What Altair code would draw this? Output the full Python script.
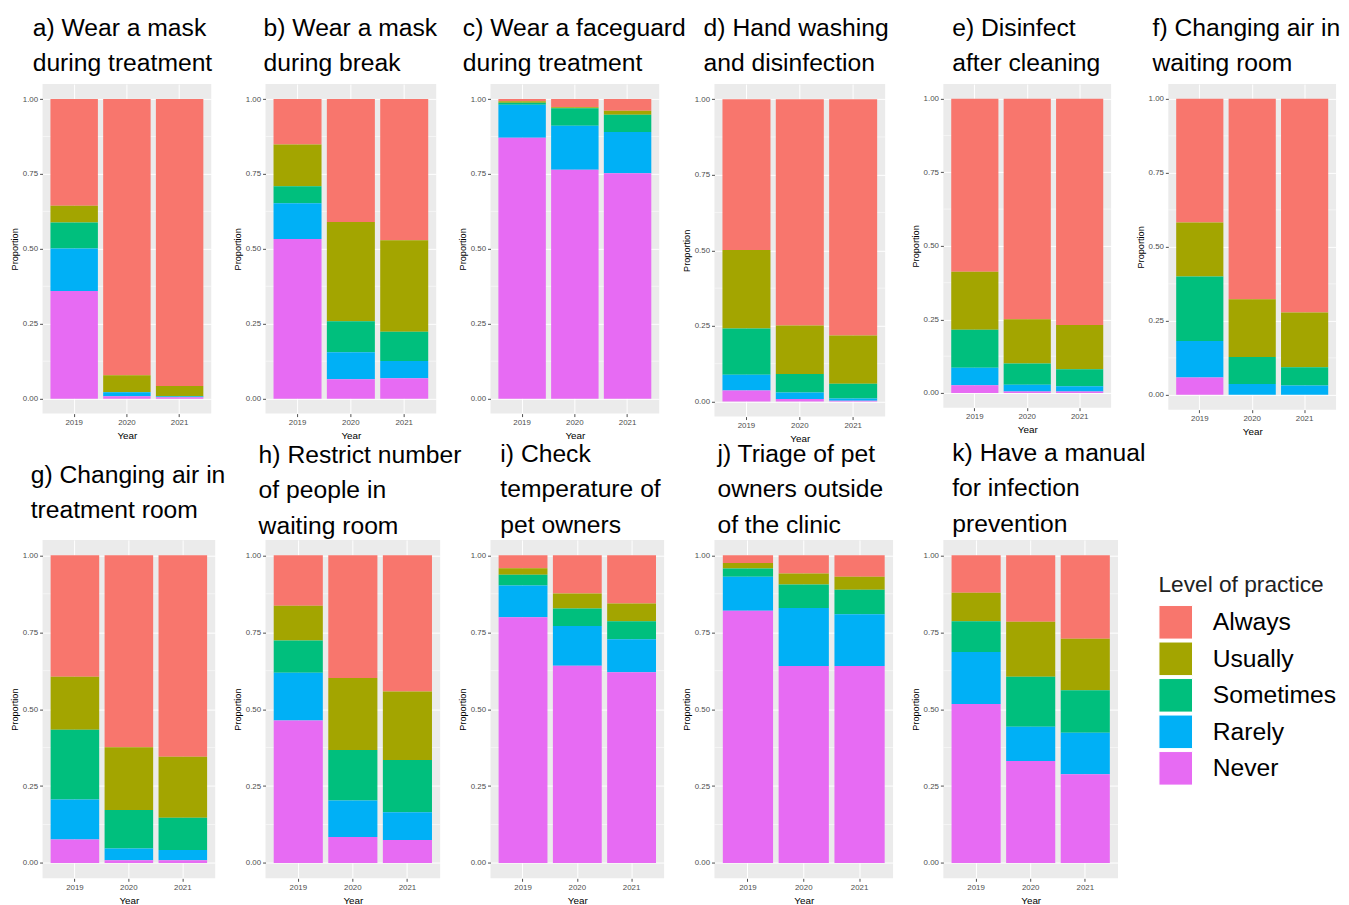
import altair as alt
import pandas as pd

# ---------------- data ----------------
panel_ids = list("abcdefghijk")
titles = [
    ["a) Wear a mask", "during treatment"],
    ["b) Wear a mask", "during break"],
    ["c) Wear a faceguard", "during treatment"],
    ["d) Hand washing", "and disinfection"],
    ["e) Disinfect", "after cleaning"],
    ["f) Changing air in", "waiting room"],
    ["g) Changing air in", "treatment room"],
    ["h) Restrict number", "of people in", "waiting room"],
    ["i) Check", "temperature of", "pet owners"],
    ["j) Triage of pet", "owners outside", "of the clinic"],
    ["k) Have a manual", "for infection", "prevention"],
]
years = ["2019", "2020", "2021"]
levels = ["Always", "Usually", "Sometimes", "Rarely", "Never"]
colors = ["#F8766D", "#A3A500", "#00BF7D", "#00B0F6", "#E76BF3"]

# proportion of each level, per panel (a..k), per year (2019, 2020, 2021)
never = [
    [0.359, 0.008, 0.005], [0.533, 0.065, 0.068], [0.871, 0.764, 0.752],
    [0.036, 0.008, 0.002], [0.026, 0.005, 0.005], [0.059, 0.000, 0.000],
    [0.076, 0.009, 0.009], [0.463, 0.084, 0.075], [0.799, 0.641, 0.620],
    [0.820, 0.640, 0.640], [0.517, 0.331, 0.288],
]
rarely = [
    [0.142, 0.013, 0.002], [0.119, 0.090, 0.058], [0.110, 0.147, 0.138],
    [0.052, 0.022, 0.008], [0.060, 0.023, 0.018], [0.123, 0.037, 0.032],
    [0.130, 0.038, 0.033], [0.155, 0.119, 0.090], [0.103, 0.129, 0.107],
    [0.110, 0.189, 0.168], [0.169, 0.112, 0.135],
]
sometimes = [
    [0.087, 0.001, 0.002], [0.057, 0.103, 0.097], [0.007, 0.058, 0.058],
    [0.153, 0.061, 0.049], [0.129, 0.072, 0.058], [0.218, 0.091, 0.061],
    [0.227, 0.125, 0.105], [0.105, 0.164, 0.170], [0.035, 0.057, 0.059],
    [0.027, 0.076, 0.080], [0.100, 0.162, 0.138],
]
usually = [
    [0.056, 0.056, 0.033], [0.139, 0.332, 0.306], [0.005, 0.004, 0.013],
    [0.260, 0.160, 0.159], [0.197, 0.151, 0.150], [0.182, 0.195, 0.185],
    [0.172, 0.204, 0.198], [0.113, 0.234, 0.222], [0.021, 0.049, 0.057],
    [0.018, 0.036, 0.042], [0.092, 0.179, 0.168],
]
always = [
    [0.356, 0.922, 0.958], [0.152, 0.410, 0.471], [0.007, 0.027, 0.039],
    [0.499, 0.749, 0.782], [0.588, 0.749, 0.769], [0.418, 0.677, 0.722],
    [0.395, 0.624, 0.655], [0.164, 0.399, 0.443], [0.042, 0.124, 0.157],
    [0.025, 0.059, 0.070], [0.122, 0.216, 0.271],
]
y_breaks = [0, 0.25, 0.5, 0.75, 1]
y_minor = [0.125, 0.375, 0.625, 0.875]

level_values = {"Always": always, "Usually": usually, "Sometimes": sometimes,
                "Rarely": rarely, "Never": never}
rows = []
for i, pid in enumerate(panel_ids):
    for j, yr in enumerate(years):
        for lv in levels:
            rows.append({"panel": pid, "Year": yr, "Level": lv,
                         "Proportion": level_values[lv][i][j],
                         "rank": 4 - levels.index(lv)})
df = pd.DataFrame(rows)
minor_df = pd.DataFrame({"v": y_minor})

# ---------------- layout (sizes / title placement) ----------------
# width, height, title dx, title offset
layout = [
    (171, 334, -10, 8), (173, 334, -2, 8), (171, 334, -28, 8),
    (173, 337, -11, 8), (170, 328, 9, 8), (170, 330, -16, 8),
    (175, 343, -12, 17), (177, 343, -7, 1), (176, 343, 10, 2),
    (181, 343, 3, 2), (177, 343, 9, 3),
]

FONT = "Liberation Sans"

legend = alt.Legend(
    orient="none", legendX=1131, legendY=497,
    title="Level of practice", titleFontSize=23, titleFontWeight="normal",
    titleColor="#222222", titleFont=FONT, titlePadding=8,
    labelFontSize=25, labelColor="black", labelFont=FONT, labelOffset=20,
    symbolType="square", symbolSize=1156, symbolStrokeColor="white",
    symbolStrokeWidth=1, symbolOpacity=1, rowPadding=-3, padding=0,
)


def y_axis():
    return alt.Axis(values=y_breaks, format=".2f", title="Proportion",
                    labelPadding=2, titlePadding=3, titleFontSize=9.3)


def make_panel(i):
    pid = panel_ids[i]
    w, h, dx, off = layout[i]
    sub = df[df["panel"] == pid]
    yscale = alt.Scale(domain=[-0.05, 1.05], nice=False, zero=False)
    minor = alt.Chart(minor_df).mark_rule(color="white", strokeWidth=0.5).encode(
        y=alt.Y("v:Q", scale=yscale, axis=y_axis())
    )
    bars = alt.Chart(sub).mark_bar().encode(
        x=alt.X("Year:N", sort=years,
                scale=alt.Scale(paddingInner=0.1, paddingOuter=0.15),
                axis=alt.Axis(title="Year", labelAngle=0, grid=True, bandPosition=0.5,
                              labelPadding=2, titlePadding=4, titleFontSize=10)),
        y=alt.Y("Proportion:Q", stack="zero", scale=yscale, axis=y_axis()),
        color=alt.Color("Level:N", scale=alt.Scale(domain=levels, range=colors),
                        legend=legend),
        order=alt.Order("rank:Q", sort="ascending"),
    )
    return alt.layer(minor, bars).properties(
        width=w, height=h,
        title=alt.Title(text=titles[i], dx=dx, offset=off),
    )


charts = [make_panel(i) for i in range(len(panel_ids))]

chart = alt.concat(
    *charts, columns=6, bounds="flush",
    spacing=alt.RowColnumber(row=125, column=51),
).properties(
    padding={"left": 2, "top": 2, "right": 0, "bottom": 0},
    background="white",
).configure_view(
    stroke=None, fill="#EBEBEB"
).configure_axis(
    labelFont=FONT, titleFont=FONT, domain=False, gridColor="white", gridWidth=1,
    labelColor="#4D4D4D", tickColor="#4D4D4D", tickSize=3, labelFontSize=8,
    titleFontWeight="normal", titleColor="black",
).configure_title(
    font=FONT, fontSize=25, fontWeight="normal", color="black",
    anchor="start", frame="group", lineHeight=36, baseline="bottom",
)

chart.save("out.html", embed_options={"renderer": "svg", "actions": False})
